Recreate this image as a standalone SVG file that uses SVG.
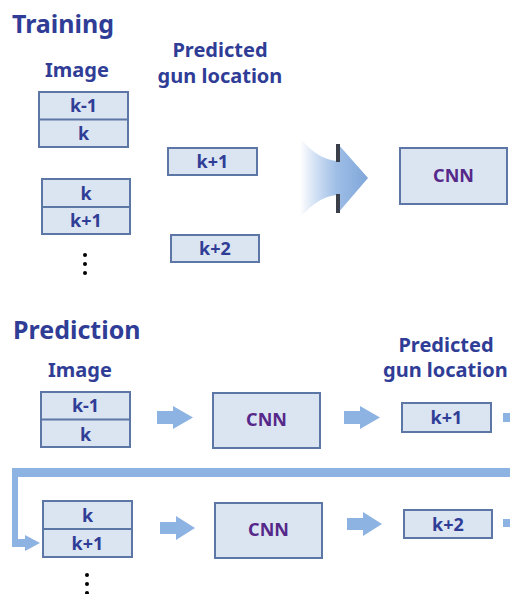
<svg xmlns="http://www.w3.org/2000/svg" width="510" height="594" viewBox="0 0 510 594">
<defs>
<style>
.t{font-family:"Noto Sans","Open Sans","DejaVu Sans",sans-serif;font-weight:bold;fill:#2f3d96;}
.title{font-size:25px;}
.hdr{font-size:20px;}
.lbl{font-size:18px;text-anchor:middle;}
.cnn{font-family:"Noto Sans","Open Sans",sans-serif;font-weight:bold;font-size:18px;fill:#55288a;text-anchor:middle;}
.box{fill:#dbe4f1;stroke:#5c76a6;stroke-width:2;}
.arr{fill:#8db3e2;}
</style>
<linearGradient id="g" x1="0" y1="0" x2="1" y2="0">
<stop offset="0" stop-color="#8db3e2" stop-opacity="0"/>
<stop offset="0.55" stop-color="#9dbde6"/>
<stop offset="1" stop-color="#7fa6d9"/>
</linearGradient>
</defs>
<rect width="510" height="594" fill="#ffffff"/>

<text class="t title" x="12" y="33">Training</text>
<text class="t hdr" x="45" y="77">Image</text>
<text class="t hdr" x="220" y="57" text-anchor="middle">Predicted</text>
<text class="t hdr" x="220" y="83" text-anchor="middle">gun location</text>

<g id="train-img1">
<rect class="box" x="39" y="92" width="89" height="55"/>
<line x1="39" y1="119.5" x2="128" y2="119.5" stroke="#5c76a6" stroke-width="2"/>
<text class="t lbl" x="83.5" y="112">k-1</text>
<text class="t lbl" x="83.5" y="140">k</text>
</g>
<g id="train-img2">
<rect class="box" x="42" y="179" width="88" height="55"/>
<line x1="42" y1="207" x2="130" y2="207" stroke="#5c76a6" stroke-width="2"/>
<text class="t lbl" x="86" y="200">k</text>
<text class="t lbl" x="86" y="227">k+1</text>
</g>
<g id="train-dots" fill="#000">
<circle cx="85" cy="255" r="2"/><circle cx="85" cy="264" r="2"/><circle cx="85" cy="273" r="2"/>
</g>
<g id="train-out1">
<rect class="box" x="168" y="148" width="89" height="27"/>
<text class="t lbl" x="212.5" y="168">k+1</text>
</g>
<g id="train-out2">
<rect class="box" x="171" y="235" width="88" height="27"/>
<text class="t lbl" x="215" y="255">k+2</text>
</g>
<g id="train-cnn">
<rect class="box" x="400" y="148" width="107" height="56"/>
<text class="cnn" x="453.5" y="182">CNN</text>
</g>

<g id="connectors">
<path d="M300 138 Q318 160 338 161 L338 144 L368 178 L338 213 L338 195 Q318 196 300 218 Z" fill="url(#g)"/>
<rect x="336" y="144" width="4" height="18" fill="#3a3f4a"/>
<rect x="336" y="194" width="4" height="19" fill="#3a3f4a"/>

<polygon class="arr" points="157,411 173,411 173,406 193,417.5 173,429 173,424 157,424"/>
<polygon class="arr" points="344,411 360,411 360,406 380,417.5 360,429 360,424 344,424"/>
<rect class="arr" x="503" y="413" width="7" height="9"/>

<polygon class="arr" points="12,468 510,468 510,477 18,477 18,539 25,539 25,535 40,543 25,551 25,547 12,547"/>

<polygon class="arr" points="160,522 176,522 176,516 195,528 176,540 176,534 160,534"/>
<polygon class="arr" points="347,518 363,518 363,512 382,524 363,536 363,530 347,530"/>
<rect class="arr" x="503" y="519" width="7" height="8"/>
</g>

<text class="t title" x="13" y="339">Prediction</text>
<text class="t hdr" x="48" y="377">Image</text>
<text class="t hdr" x="446" y="352" text-anchor="middle">Predicted</text>
<text class="t hdr" x="383" y="377">gun location</text>

<g id="pred-img1">
<rect class="box" x="41" y="392" width="89" height="55"/>
<line x1="41" y1="419.5" x2="130" y2="419.5" stroke="#5c76a6" stroke-width="2"/>
<text class="t lbl" x="85.5" y="412">k-1</text>
<text class="t lbl" x="85.5" y="441">k</text>
</g>
<g id="pred-cnn1">
<rect class="box" x="213" y="393" width="107" height="55"/>
<text class="cnn" x="266.5" y="426">CNN</text>
</g>
<g id="pred-out1">
<rect class="box" x="402" y="403" width="89" height="29"/>
<text class="t lbl" x="446.5" y="424">k+1</text>
</g>

<g id="pred-img2">
<rect class="box" x="43" y="501" width="89" height="56"/>
<line x1="43" y1="529" x2="132" y2="529" stroke="#5c76a6" stroke-width="2"/>
<text class="t lbl" x="87.5" y="522">k</text>
<text class="t lbl" x="87.5" y="550">k+1</text>
</g>
<g id="pred-cnn2">
<rect class="box" x="215" y="503" width="107" height="55"/>
<text class="cnn" x="268.5" y="536">CNN</text>
</g>
<g id="pred-out2">
<rect class="box" x="404" y="510" width="88" height="28"/>
<text class="t lbl" x="448" y="531">k+2</text>
</g>
<g id="pred-dots" fill="#000">
<circle cx="87" cy="575" r="2"/><circle cx="87" cy="584" r="2"/><circle cx="87" cy="593" r="2"/>
</g>
</svg>
